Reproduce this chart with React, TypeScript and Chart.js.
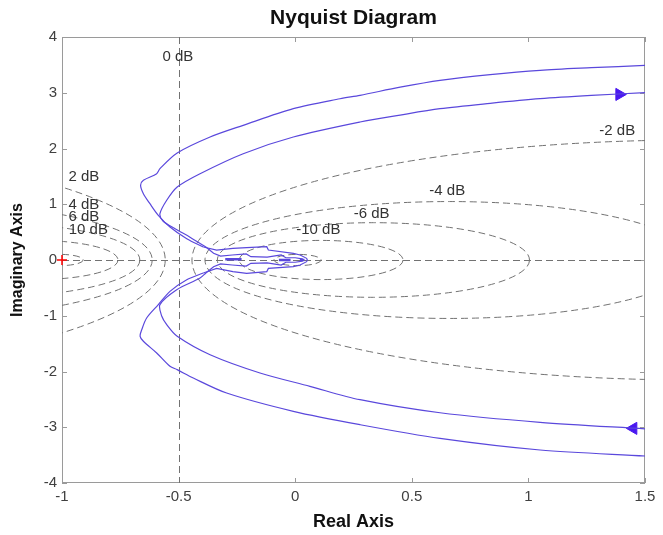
import React, { useEffect, useRef } from 'react';
import { Chart, registerables } from 'chart.js';

Chart.register(...registerables);

// ---- axes ----
const xTickValues = [-1, -0.5, 0, 0.5, 1, 1.5];
const yTickValues = [-4, -3, -2, -1, 0, 1, 2, 3, 4];

const gridDbLevels = [20, 10, 6, 4, 2, -2, -4, -6, -10, -20];
const gridLabels = [
  { text: '0 dB', x: -0.503, y: 3.64 },
  { text: '2 dB', x: -0.906, y: 1.49 },
  { text: '4 dB', x: -0.906, y: 0.99 },
  { text: '6 dB', x: -0.906, y: 0.77 },
  { text: '10 dB', x: -0.887, y: 0.54 },
  { text: '-2 dB', x: 1.381, y: 2.32 },
  { text: '-4 dB', x: 0.652, y: 1.24 },
  { text: '-6 dB', x: 0.328, y: 0.83 },
  { text: '-10 dB', x: 0.099, y: 0.545 },
];

// ---- outer Nyquist curve ----
const outerUpperX = [1.5, 1.27, 1.05, 0.836, 0.621, 0.45, 0.278, 0.192, -0.008, -0.223, -0.365, -0.506, -0.58, -0.594, -0.651, -0.663, -0.651, -0.623, -0.587, -0.537, -0.465, -0.394];
const outerUpperY = [3.49, 3.449, 3.403, 3.326, 3.223, 3.1, 2.954, 2.893, 2.714, 2.416, 2.206, 1.919, 1.638, 1.548, 1.43, 1.34, 1.189, 1.01, 0.802, 0.592, 0.382, 0.233];
const outerCoreX = [-0.337, -0.267, -0.208, -0.122, -0.115, -0.008, 0.021, 0.049, 0.052, 0.049, 0.021, -0.008, -0.115, -0.122, -0.208, -0.267, -0.337];
const outerCoreY = [0.179, 0.21, 0.221, 0.239, 0.179, 0.12, 0.09, 0.03, 0, -0.03, -0.09, -0.12, -0.15, -0.21, -0.239, -0.21, -0.15];
const outerLowerX = [-0.394, -0.465, -0.537, -0.587, -0.637, -0.658, -0.665, -0.651, -0.594, -0.537, -0.506, -0.437, -0.294, -0.008, 0.278, 0.621, 1.05, 1.5];
const outerLowerY = [-0.233, -0.353, -0.562, -0.8, -1.04, -1.25, -1.369, -1.458, -1.668, -1.907, -1.967, -2.117, -2.386, -2.714, -2.954, -3.2, -3.408, -3.516];

// ---- inner Nyquist curve ----
const innerUpperX = [1.5, 1.27, 1.05, 0.836, 0.621, 0.45, 0.278, -0.008, -0.223, -0.408, -0.506, -0.551, -0.58, -0.567, -0.515, -0.451, -0.383];
const innerUpperY = [3.001, 2.952, 2.893, 2.81, 2.714, 2.6, 2.475, 2.206, 1.907, 1.548, 1.309, 1.071, 0.83, 0.7, 0.56, 0.41, 0.233];
const innerCoreX = [-0.35, -0.32, -0.27, -0.21, -0.19, -0.12, -0.06, -0.04, 0.0, 0.03, 0.035, 0.03, 0.0, -0.04, -0.06, -0.12, -0.19, -0.21, -0.27, -0.32, -0.35];
const innerCoreY = [0.12, 0.07, 0.09, 0.11, 0.06, 0.05, 0.09, 0.04, 0.04, 0.02, 0, -0.02, -0.04, -0.04, -0.09, -0.05, -0.06, -0.11, -0.09, -0.07, -0.12];
const innerLowerX = [-0.383, -0.408, -0.508, -0.58, -0.572, -0.551, -0.506, -0.365, -0.151, 0.063, 0.278, 0.621, 1.05, 1.5];
const innerLowerY = [-0.233, -0.323, -0.532, -0.8, -1.01, -1.16, -1.369, -1.7, -2.027, -2.266, -2.506, -2.74, -2.912, -3.03];

// ---- short segments in the core ----
const coreSegX = [-0.3, -0.23, null, -0.07, -0.02, null, 0.02, 0.04];
const coreSegY = [0.012, 0.012, null, 0.0, 0.0, null, 0.0, 0.0];

// ---- arrows and critical point ----
const arrowX = [1.39, 1.45];
const arrowY = [2.97, -3.02];
const arrowRotation = [90, -90];
const criticalX = [-1];
const criticalY = [0];

const zip = (xs: (number | null)[], ys: (number | null)[]) => xs.map((x, i) => ({ x, y: ys[i] }));
const last = <T,>(a: T[]) => a[a.length - 1];

const CURVE = '#5a48dc';
const FONT = "'Liberation Sans', Arial, sans-serif";

const nyquistPlugin = {
  id: 'nyquistDecor',
  beforeDatasetsDraw(chart: any) {
    const { ctx, chartArea: a, scales } = chart;
    const xs = scales.x, ys = scales.y;
    const ppx = xs.getPixelForValue(1) - xs.getPixelForValue(0);
    const ppy = ys.getPixelForValue(0) - ys.getPixelForValue(1);
    ctx.save();
    // frame
    ctx.strokeStyle = '#9a9a9a';
    ctx.lineWidth = 1;
    ctx.setLineDash([]);
    ctx.strokeRect(a.left + 0.5, a.top + 0.5, a.right - a.left - 1, a.bottom - a.top - 1);
    // inner ticks
    const tl = 5;
    ctx.beginPath();
    xTickValues.forEach((v) => {
      const px = Math.round(xs.getPixelForValue(v)) + 0.5;
      ctx.moveTo(px, a.top);
      ctx.lineTo(px, a.top + tl);
      ctx.moveTo(px, a.bottom);
      ctx.lineTo(px, a.bottom - tl);
    });
    yTickValues.forEach((v) => {
      const py = Math.round(ys.getPixelForValue(v)) + 0.5;
      ctx.moveTo(a.left, py);
      ctx.lineTo(a.left + tl, py);
      ctx.moveTo(a.right, py);
      ctx.lineTo(a.right - tl, py);
    });
    ctx.stroke();

    ctx.beginPath();
    ctx.rect(a.left, a.top, a.right - a.left, a.bottom - a.top);
    ctx.clip();
    ctx.strokeStyle = '#727272';
    ctx.lineWidth = 1;
    ctx.setLineDash([7, 4]);
    gridDbLevels.forEach((db) => {
      const m = Math.pow(10, db / 20);
      const c = (m * m) / (1 - m * m);
      const r = Math.abs(m / (1 - m * m));
      ctx.beginPath();
      ctx.ellipse(xs.getPixelForValue(c), ys.getPixelForValue(0), r * ppx, r * ppy, 0, 0, Math.PI * 2);
      ctx.stroke();
    });
    // 0 dB line and real axis
    const x05 = Math.round(xs.getPixelForValue(-0.5)) + 0.5;
    ctx.beginPath();
    ctx.moveTo(x05, a.top);
    ctx.lineTo(x05, a.bottom);
    ctx.stroke();
    const y0 = Math.round(ys.getPixelForValue(0)) + 0.5;
    ctx.beginPath();
    ctx.moveTo(a.left, y0);
    ctx.lineTo(a.right, y0);
    ctx.stroke();
    ctx.restore();

    // grid labels
    ctx.save();
    ctx.fillStyle = '#333333';
    ctx.font = `15px ${FONT}`;
    ctx.textAlign = 'center';
    ctx.textBaseline = 'middle';
    gridLabels.forEach((l) => {
      ctx.fillText(l.text, xs.getPixelForValue(l.x), ys.getPixelForValue(l.y));
    });
    // title
    ctx.fillStyle = '#111111';
    ctx.font = `bold 21px ${FONT}`;
    ctx.fillText('Nyquist Diagram', (a.left + a.right) / 2, 18);
    ctx.restore();
  },
};

const lineDs = (label: string, data: any[], tension: number, width = 1.2) => ({
  label,
  data,
  showLine: true,
  borderColor: CURVE,
  borderWidth: width,
  pointRadius: 0,
  tension,
  spanGaps: false,
});

export default function App() {
  const canvasRef = useRef<HTMLCanvasElement | null>(null);

  useEffect(() => {
    document.body.style.margin = '0';
    const canvas = canvasRef.current;
    if (!canvas) return;
    const chart = new Chart(canvas, {
      type: 'scatter',
      data: {
        datasets: [
          lineDs('outer upper', zip(outerUpperX, outerUpperY), 0.3),
          lineDs('outer core', zip([last(outerUpperX), ...outerCoreX, outerLowerX[0]], [last(outerUpperY), ...outerCoreY, outerLowerY[0]]), 0),
          lineDs('outer lower', zip(outerLowerX, outerLowerY), 0.3),
          lineDs('inner upper', zip(innerUpperX, innerUpperY), 0.3),
          lineDs('inner core', zip([last(innerUpperX), ...innerCoreX, innerLowerX[0]], [last(innerUpperY), ...innerCoreY, innerLowerY[0]]), 0),
          lineDs('inner lower', zip(innerLowerX, innerLowerY), 0.3),
          lineDs('core segments', zip(coreSegX, coreSegY), 0, 2.5),
          {
            label: 'arrows',
            data: zip(arrowX, arrowY),
            pointStyle: 'triangle',
            rotation: arrowRotation,
            pointRadius: 7,
            backgroundColor: '#4a18f0',
            borderColor: '#4a18f0',
            borderWidth: 1,
          },
          {
            label: 'critical',
            data: zip(criticalX, criticalY),
            pointStyle: 'cross',
            pointRadius: 5,
            borderColor: '#ff0000',
            borderWidth: 1.5,
            clip: false,
          },
        ],
      } as any,
      options: {
        responsive: false,
        animation: false,
        events: [],
        layout: { padding: { top: 37, right: 18, left: 0, bottom: 0 } },
        plugins: { legend: { display: false }, tooltip: { enabled: false }, title: { display: false } },
        scales: {
          x: {
            type: 'linear',
            min: -1,
            max: 1.5,
            afterBuildTicks: (s: any) => { s.ticks = xTickValues.map((v) => ({ value: v })); },
            afterFit: (s: any) => { s.height = 52; },
            grid: { display: false, drawTicks: false },
            border: { display: false },
            ticks: {
              padding: 5,
              color: '#404040',
              font: { family: FONT, size: 15 },
              callback: (v: any) => String(v),
            },
            title: {
              display: true,
              text: 'Real Axis',
              color: '#111111',
              font: { family: FONT, size: 18, weight: 'bold' },
              padding: { top: 0, bottom: 2 },
            },
          },
          y: {
            type: 'linear',
            min: -4,
            max: 4,
            afterBuildTicks: (s: any) => { s.ticks = yTickValues.map((v) => ({ value: v })); },
            afterFit: (s: any) => { s.width = 62; },
            grid: { display: false, drawTicks: false },
            border: { display: false },
            ticks: {
              padding: 5,
              color: '#404040',
              font: { family: FONT, size: 15 },
              callback: (v: any) => String(v),
            },
            title: {
              display: true,
              text: 'Imaginary Axis',
              color: '#111111',
              font: { family: FONT, size: 16, weight: 'bold' },
              padding: { top: 8, bottom: 0 },
            },
          },
        },
      } as any,
      plugins: [nyquistPlugin],
    });
    return () => chart.destroy();
  }, []);

  return (
    <div style={{ width: 663, height: 535 }}>
      <canvas ref={canvasRef} width={663} height={535} style={{ display: 'block' }} />
    </div>
  );
}
